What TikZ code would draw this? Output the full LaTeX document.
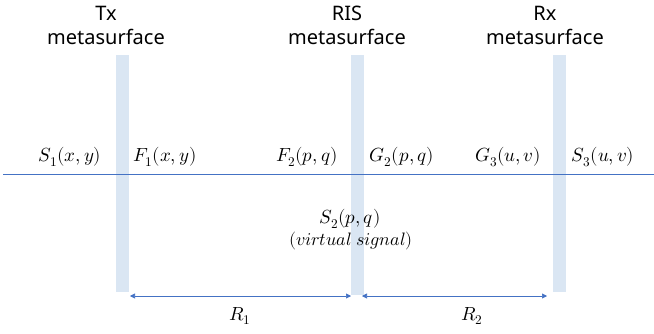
\documentclass[tikz,border=0pt]{standalone}
\usepackage{fontspec}
\setmainfont{Noto Sans}
\usepackage{unicode-math}
\setmathfont{Latin Modern Math}
\usetikzlibrary{arrows.meta}
\definecolor{barblue}{HTML}{DAE6F3}
\definecolor{lineblue}{HTML}{4472C4}
\tikzset{
  bar/.style={fill=barblue, draw=none, minimum width=13pt, inner sep=0pt},
  toplabel/.style={font=\fontsize{20}{24}\selectfont, align=center, inner sep=0pt},
  mlabel/.style={font=\fontsize{19}{22}\selectfont, inner sep=0pt},
  axisline/.style={draw=lineblue, line width=0.6pt},
  dimarrow/.style={draw=lineblue, line width=0.6pt, {Triangle[length=5pt,width=5pt]}-{Triangle[length=5pt,width=5pt]}}
}
\begin{document}
\begin{tikzpicture}[x=1pt,y=-1pt]
\useasboundingbox (0,0) rectangle (654,333);
% bars
\node[bar, minimum height=237pt, anchor=north] (txbar) at (122.5,55) {};
\node[bar, minimum height=240pt, anchor=north] (risbar) at (357.5,55) {};
\node[bar, minimum height=237pt, anchor=north] (rxbar) at (559.5,55) {};
% top labels
\node[toplabel] (tx) at (106,25) {Tx\\metasurface};
\node[toplabel] (ris) at (347,25) {RIS\\metasurface};
\node[toplabel] (rx) at (545,25) {Rx\\metasurface};
% axis line
\coordinate (lstart) at (3,174);
\coordinate (lend) at (654,174);
\draw[axisline] (lstart) -- (lend);
% math labels
\node[mlabel] (s1) at (70,157) {$S_1(x,y)$};
\node[mlabel] (f1) at (165,157) {$F_1(x,y)$};
\node[mlabel] (f2) at (307,157) {$F_2(p,q)$};
\node[mlabel] (g2) at (402,157) {$G_2(p,q)$};
\node[mlabel] (g3) at (508,157) {$G_3(u,v)$};
\node[mlabel] (s3) at (603,157) {$S_3(u,v)$};
\node[mlabel] (s2) at (350,219) {$S_2(p,q)$};
\node[mlabel, font=\fontsize{18}{21}\selectfont] (vs) at (351,241) {$(virtual\ signal)$};
% dimension arrows
\coordinate (a1) at (130,296);
\coordinate (a2) at (351,296);
\coordinate (b1) at (362,296);
\coordinate (b2) at (547,296);
\draw[dimarrow] (a1) -- (a2);
\draw[dimarrow] (b1) -- (b2);
\node[mlabel] (r1) at (240,316) {$R_1$};
\node[mlabel] (r2) at (472,316) {$R_2$};
\end{tikzpicture}
\end{document}
